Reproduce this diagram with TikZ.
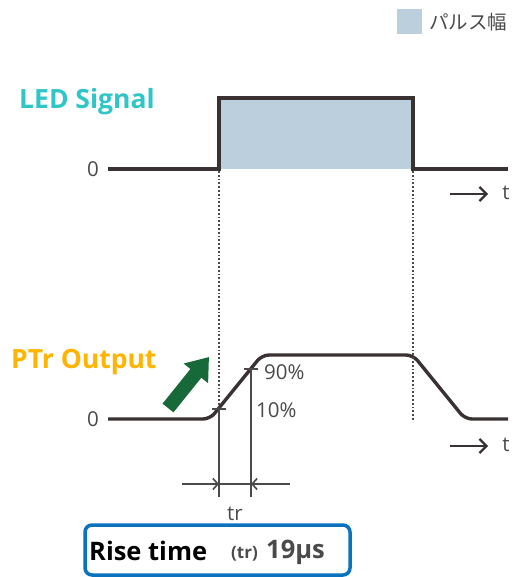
\documentclass[tikz,border=0pt]{standalone}
\usepackage{fontspec}
\setmainfont{Open Sans}
\newfontfamily\cjk{Noto Sans CJK JP}
\usetikzlibrary{arrows.meta}
\definecolor{wavec}{HTML}{3A3232}
\definecolor{pulse}{HTML}{BBD0DC}
\definecolor{ledc}{HTML}{30C6C8}
\definecolor{ptrc}{HTML}{FFB500}
\definecolor{greenc}{HTML}{17693A}
\definecolor{boxblue}{HTML}{0A72BE}
\definecolor{labc}{HTML}{4A4A4A}
\begin{document}
\begin{tikzpicture}[x=1pt,y=-1pt,
  wave/.style={draw=wavec,line width=3.4pt,rounded corners=7pt},
  dotline/.style={draw=labc,line width=1.5pt,dash pattern=on 1.8pt off 2pt},
  dimline/.style={draw=labc,line width=1.6pt},
  lab/.style={text=labc,font=\fontsize{20.5}{22}\selectfont,inner sep=0pt},
  title/.style={font=\bfseries\fontsize{26.5}{30}\selectfont,inner sep=0pt,anchor=base west},
  taxis/.style={draw=wavec,line width=2.2pt,-{Straight Barb[length=7pt,width=14pt]}}
]
\useasboundingbox (0,0) rectangle (519,577);

% legend
\node[fill=pulse,minimum size=25pt,inner sep=0pt] (leg) at (409,21.5) {};
\node[anchor=west,inner sep=0pt,text=labc,font=\fontsize{19.5}{21}\selectfont] (legtxt) at (429,22) {\cjk パルス幅};

% titles
\node[title,text=ledc] (ledtitle) at (19,109) {LED Signal};
\node[title,text=ptrc] (ptrtitle) at (11,368) {PTr Output};

% LED signal
\coordinate (l0) at (108,169);
\coordinate (l1) at (219,169);
\coordinate (l2) at (219,98);
\coordinate (l3) at (413,98);
\coordinate (l4) at (413,169);
\coordinate (l5) at (508,169);
\fill[pulse] (l1) rectangle (l3);
\draw[draw=wavec,line width=3.4pt] (l0) -- (l1) -- (l2) -- (l3) -- (l4) -- (l5);
\node[lab,anchor=east] (zero1) at (99,169) {0};
\coordinate (ta1) at (450,194);
\coordinate (tb1) at (488,194);
\draw[taxis] (ta1) -- (tb1);
\node[lab,anchor=center] (t1) at (506,193) {t};

% PTr output
\coordinate (p0) at (108,419);
\coordinate (p1) at (210,419);
\coordinate (p2) at (262,355);
\coordinate (p3) at (413,355);
\coordinate (p4) at (465,419);
\coordinate (p5) at (508,419);
\draw[wave] (p0) -- (p1) -- (p2) -- (p3) -- (p4) -- (p5);
\node[lab,anchor=east] (zero2) at (99,419) {0};
\coordinate (ta2) at (450,446);
\coordinate (tb2) at (488,446);
\draw[taxis] (ta2) -- (tb2);
\node[lab,anchor=center] (t2) at (506,445) {t};

% dotted guides
\coordinate (d1a) at (219,171);
\coordinate (d1b) at (219,409);
\coordinate (d2a) at (413,171);
\coordinate (d2b) at (413,421);
\draw[dotline] (d1a) -- (d1b);
\draw[dotline] (d2a) -- (d2b);

% 10% / 90% ticks
\coordinate (m10) at (219,409);
\coordinate (m90) at (251,369);
\draw[dimline] ([xshift=-7pt]m10) -- ([xshift=7pt]m10);
\draw[dimline] ([xshift=-7pt]m90) -- ([xshift=7pt]m90);
\coordinate (v10) at (219,497);
\coordinate (v90) at (251,497);
\draw[dimline] (m10) -- (v10);
\draw[dimline] (m90) -- (v90);
\node[lab,anchor=west] (p90) at (264,372) {90\%};
\node[lab,anchor=west] (p10) at (256,410) {10\%};

% dimension arrows
\coordinate (da) at (182,484);
\coordinate (db) at (219,484);
\coordinate (dc) at (251,484);
\coordinate (dd) at (290,484);
\draw[dimline,-{Straight Barb[length=5pt,width=11pt]}] (da) -- (db);
\draw[dimline,-{Straight Barb[length=5pt,width=11pt]}] (dd) -- (dc);
\draw[dimline] (db) -- (dc);
\node[lab,anchor=center] (tr) at (235,514) {tr};

% green arrow
\coordinate (ga) at (168,408);
\coordinate (gb) at (209,357);
\draw[greenc,line width=14pt,-{Triangle[length=21pt,width=30pt]}] (ga) -- (gb);

% rise time box
\node[draw=boxblue,line width=3.5pt,rounded corners=7pt,minimum width=265pt,minimum height=50pt,inner sep=0pt] (box) at (217.5,550) {};
\node[anchor=base west,inner sep=0pt,font=\bfseries\fontsize{25.5}{28}\selectfont] (rise) at (89,560) {Rise time};
\node[anchor=base west,inner sep=0pt,text=labc,font=\bfseries\fontsize{17}{20}\selectfont] (trp) at (231,558) {(tr)};
\node[anchor=base west,inner sep=0pt,text=labc,font=\bfseries\fontsize{25.5}{28}\selectfont] (val) at (266,558) {19µs};
\end{tikzpicture}
\end{document}
